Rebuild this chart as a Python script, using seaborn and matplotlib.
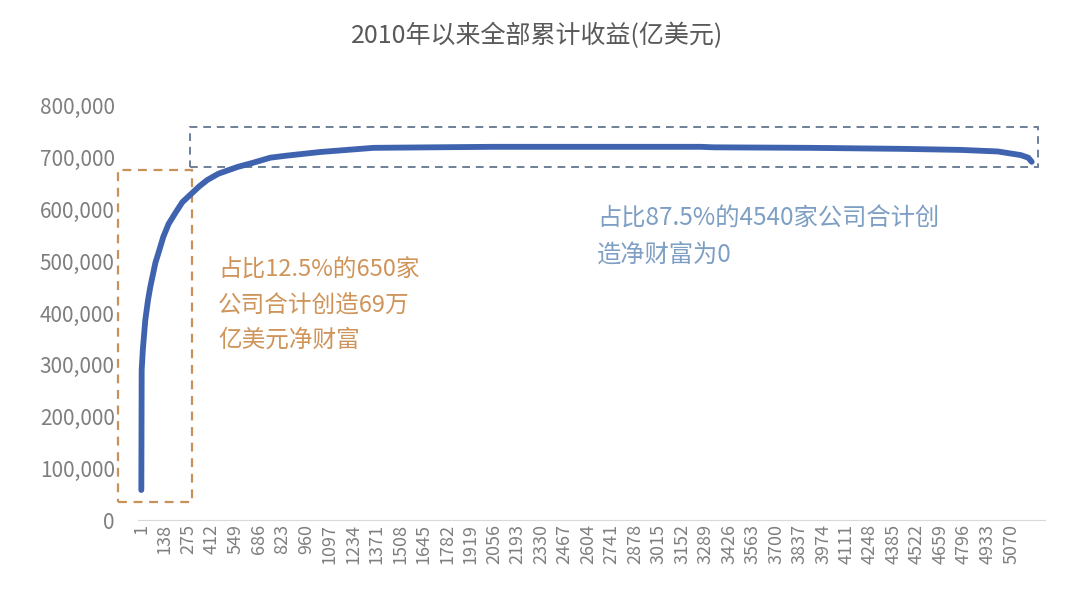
import numpy as np
import pandas as pd
import matplotlib
matplotlib.use('Agg')
import matplotlib.pyplot as plt
import seaborn as sns
from matplotlib.patches import Rectangle

# company rank (sorted by earnings) and cumulative earnings
ranks = [1, 3, 10, 24, 40, 53, 83, 100, 129, 160, 199, 240, 298, 340, 386, 450,
         561, 650, 753, 850, 1045, 1200, 1354, 1700, 2053, 2700, 3260, 3336,
         3900, 4444, 4776, 4992, 5126, 5170, 5190]
cum_earnings = [58000, 290000, 330000, 386000, 425000, 450000, 497000, 515000,
                547000, 572000, 593000, 614000, 632000, 645000, 657000, 669000,
                682000, 690000, 700000, 704000, 711000, 715000, 719000, 720000,
                721000, 721000, 721000, 720000, 719000, 717000, 715000, 712000,
                705000, 700000, 692000]

tick_ranks = list(range(1, 5191, 137))
y_ticks = [0, 100000, 200000, 300000, 400000, 500000, 600000, 700000, 800000]

title = '2010年以来全部累计收益(亿美元)'
note_top = ['占比12.5%的650家', '公司合计创造69万', '亿美元净财富']
note_rest = ['占比87.5%的4540家公司合计创', '造净财富为0']

df = pd.DataFrame({'rank': ranks, 'cum': cum_earnings})

sns.set_style('white')
plt.rcParams['font.family'] = ['Noto Sans CJK SC', 'DejaVu Sans']

fig = plt.figure(figsize=(10.8, 5.95), dpi=100)
ax = fig.add_axes([0.128, 0.126, 0.84, 0.696])

sns.lineplot(data=df, x='rank', y='cum', ax=ax, color='#3F63AE', linewidth=4.2)

ax.set_xlim(-17, 5270)
ax.set_ylim(0, 800000)
ax.set_xticks(tick_ranks)
ax.set_xticklabels([str(t) for t in tick_ranks], rotation=90, fontsize=13, color='#7F7F7F')
ax.set_yticks(y_ticks)
ax.set_yticklabels(['{:,}'.format(v) for v in y_ticks], fontsize=15, color='#7F7F7F')
ax.tick_params(axis='x', length=0, pad=3)
ax.tick_params(axis='y', length=0, pad=17)
ax.set_xlabel('')
ax.set_ylabel('')
for s in ['top', 'right', 'left']:
    ax.spines[s].set_visible(False)
ax.spines['bottom'].set_color('#D9D9D9')

# dashed boxes around the two groups
ax.add_patch(Rectangle((-133, 35000), 431, 641000, fill=False, ls=(0, (4, 3)),
                       lw=1.6, ec='#C9915A', clip_on=False))
ax.add_patch(Rectangle((287, 682000), 4938, 77000, fill=False, ls=(0, (4, 3)),
                       lw=1.4, ec='#6E8099', clip_on=False))

fig.text(0.497, 0.94, title, ha='center', va='center', fontsize=18, color='#595959')
for i, line in enumerate(note_top):
    fig.text(0.202, 0.546 - i * 0.059, line, ha='left', va='center', fontsize=17,
             color='#CF9459')
for i, line in enumerate(note_rest):
    fig.text(0.553, 0.633 - i * 0.063, line, ha='left', va='center', fontsize=17.5,
             color='#7E9FC4')

plt.savefig('out.png', dpi=100)
